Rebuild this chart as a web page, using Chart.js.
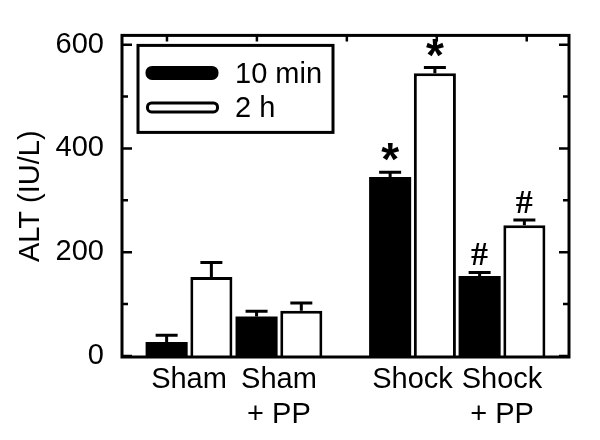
<!DOCTYPE html>
<html>
<head>
<meta charset="utf-8">
<script src="https://cdn.jsdelivr.net/npm/chart.js@4"></script>
<style>
  html, body { margin: 0; padding: 0; background: #fff; }
  #wrap { width: 600px; height: 440px; }
</style>
</head>
<body>
<div id="wrap"><canvas id="altChart" width="600" height="440"></canvas></div>
<script>
// values
const categories = [['Sham'], ['Sham', '+ PP'], ['Shock'], ['Shock', '+ PP']];
const seriesLabels = ['10 min', '2 h'];
const min10 = [27, 76, 345, 154];
const min10Err = [13, 10, 9, 7];
const h2 = [152, 87, 545, 252];
const h2Err = [28, 15, 11, 10];
const min10Marks = ['', '', '*', '#'];
const h2Marks = ['', '', '*', '#'];
const yTicks = [0, 200, 400, 600];
const yMinorTicks = [100, 300, 500];

// layout: where each group sits on the x axis (gap before Shock)
const groupPos = [0.745, 1.745, 3.23, 4.225];
const topTickPos = [0.5, 1.5, 2.5, 3.5, 4.5];

const FONT = "'Liberation Sans', Arial, sans-serif";

function points(values) {
  return values.map((v, i) => ({ x: groupPos[i], y: v }));
}

const errors = [min10Err, h2Err];
const marks = [min10Marks, h2Marks];

const framePlugin = {
  id: 'frame',
  afterDraw(chart) {
    const ctx = chart.ctx;
    const a = chart.chartArea;
    const y = chart.scales.y;
    const x = chart.scales.x;
    ctx.save();
    ctx.strokeStyle = '#000';
    ctx.lineWidth = 3;
    ctx.strokeRect(a.left, a.top, a.right - a.left, a.bottom - a.top);
    ctx.lineWidth = 2.5;
    ctx.beginPath();
    yTicks.forEach(t => {
      const py = y.getPixelForValue(t);
      ctx.moveTo(a.left, py); ctx.lineTo(a.left + 10, py);
      ctx.moveTo(a.right, py); ctx.lineTo(a.right - 10, py);
    });
    yMinorTicks.forEach(t => {
      const py = y.getPixelForValue(t);
      ctx.moveTo(a.left, py); ctx.lineTo(a.left + 6, py);
      ctx.moveTo(a.right, py); ctx.lineTo(a.right - 6, py);
    });
    topTickPos.forEach(t => {
      const px = x.getPixelForValue(t);
      ctx.moveTo(px, a.top); ctx.lineTo(px, a.top + 6);
    });
    ctx.stroke();

    // legend box
    const lx = a.left + 16, ly = a.top + 10;
    ctx.lineWidth = 3;
    ctx.strokeRect(lx, ly, 195, 87);
    ctx.beginPath();
    ctx.roundRect(lx + 9, ly + 22, 70, 11, 5);
    ctx.fillStyle = '#000';
    ctx.fill();
    ctx.stroke();
    ctx.beginPath();
    ctx.roundRect(lx + 9.5, ly + 57.5, 70, 9, 4);
    ctx.fillStyle = '#fff';
    ctx.fill();
    ctx.stroke();
    ctx.fillStyle = '#000';
    ctx.font = '29px ' + FONT;
    ctx.textBaseline = 'alphabetic';
    ctx.textAlign = 'left';
    ctx.fillText(seriesLabels[0], lx + 97, ly + 38);
    ctx.fillText(seriesLabels[1], lx + 97, ly + 72);
    ctx.restore();
  }
};

const errorBarPlugin = {
  id: 'errorBars',
  afterDatasetsDraw(chart) {
    const ctx = chart.ctx;
    const y = chart.scales.y;
    ctx.save();
    ctx.strokeStyle = '#000';
    ctx.fillStyle = '#000';
    chart.data.datasets.forEach((ds, di) => {
      const meta = chart.getDatasetMeta(di);
      meta.data.forEach((bar, i) => {
        const top = y.getPixelForValue(ds.data[i].y + errors[di][i]);
        ctx.lineWidth = 3;
        ctx.beginPath();
        ctx.moveTo(bar.x, bar.y);
        ctx.lineTo(bar.x, top);
        ctx.moveTo(bar.x - 11, top);
        ctx.lineTo(bar.x + 11, top);
        ctx.stroke();
        const m = marks[di][i];
        if (m) {
          ctx.font = m === '*' ? 'bold 46px ' + FONT : "bold 34px 'Liberation Serif', serif";
          ctx.textAlign = 'center';
          ctx.textBaseline = 'alphabetic';
          const mt = ctx.measureText(m);
          const gap = m === '*' ? 11 : 7;
          ctx.fillText(m, bar.x, top - gap - mt.actualBoundingBoxDescent);
        }
      });
    });
    ctx.restore();
  }
};

new Chart(document.getElementById('altChart'), {
  type: 'bar',
  data: {
    datasets: [
      {
        label: seriesLabels[0],
        data: points(min10),
        backgroundColor: '#000',
        borderColor: '#000',
        borderWidth: 0
      },
      {
        label: seriesLabels[1],
        data: points(h2),
        backgroundColor: '#fff',
        borderColor: '#000',
        borderWidth: 3
      }
    ]
  },
  options: {
    responsive: false,
    animation: false,
    categoryPercentage: 1.0,
    barPercentage: 0.94,
    layout: { padding: { top: 35, right: 31, left: 0, bottom: 0 } },
    plugins: {
      legend: { display: false },
      tooltip: { enabled: false }
    },
    scales: {
      x: {
        type: 'linear',
        min: 0,
        max: 4.97,
        offset: false,
        grid: { display: false, offset: false, drawTicks: false },
        border: { display: false },
        afterBuildTicks: scale => {
          scale.ticks = groupPos.map(v => ({ value: v }));
        },
        afterFit: scale => { scale.height = 83; },
        ticks: {
          color: '#000',
          padding: 5,
          maxRotation: 0,
          autoSkip: false,
          font: { family: FONT, size: 29, lineHeight: 1.22 },
          callback: (value, index) => categories[index]
        }
      },
      y: {
        min: -2,
        max: 618,
        grid: { display: false, drawTicks: false },
        border: { display: false },
        afterBuildTicks: scale => {
          scale.ticks = yTicks.map(v => ({ value: v }));
        },
        afterFit: scale => { scale.width = 122; },
        ticks: {
          color: '#000',
          padding: 18,
          font: { family: FONT, size: 29 }
        },
        title: {
          display: true,
          text: 'ALT (IU/L)',
          color: '#000',
          padding: { top: 14, bottom: 0 },
          font: { family: FONT, size: 29 }
        }
      }
    }
  },
  plugins: [framePlugin, errorBarPlugin]
});
</script>
</body>
</html>
